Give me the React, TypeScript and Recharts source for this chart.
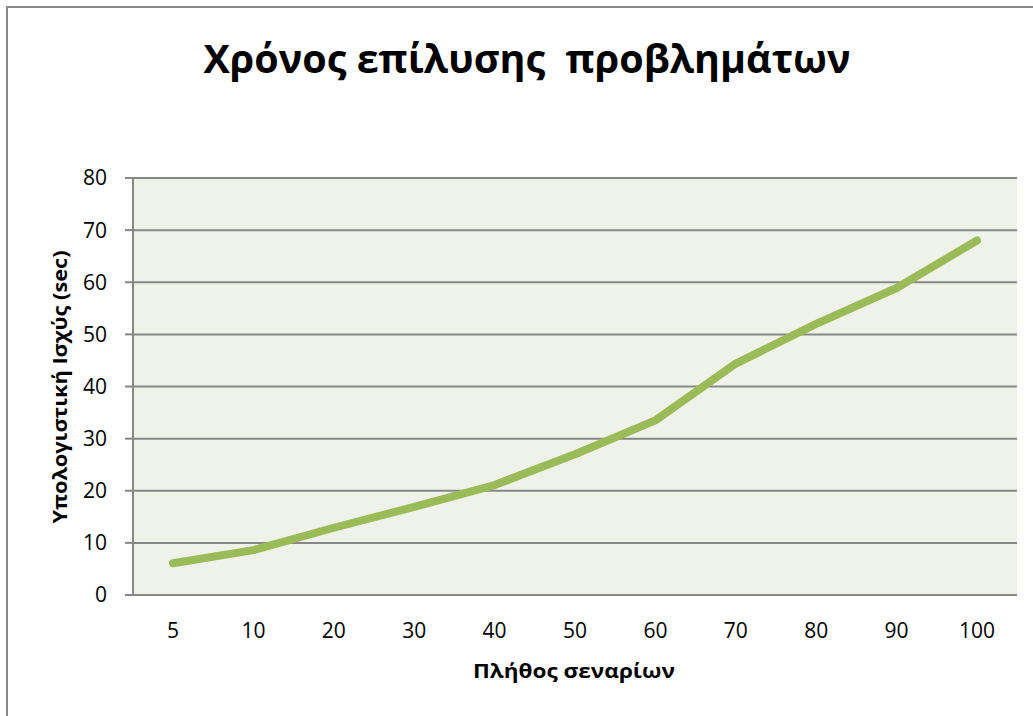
import React from "react";
import { LineChart, Line, XAxis, YAxis, CartesianGrid } from "recharts";

const categories = ["5", "10", "20", "30", "40", "50", "60", "70", "80", "90", "100"];
const timeValues = [6.1, 8.6, 12.9, 16.9, 21.1, 27.0, 33.5, 44.4, 52.0, 58.9, 68.0];
const yTicks = [0, 10, 20, 30, 40, 50, 60, 70, 80];

const data = categories.map((c, i) => ({ name: c, value: timeValues[i] }));

const FONT = "'Open Sans', 'DejaVu Sans', sans-serif";

export default function App() {
  return (
    <div style={{ position: "absolute", left: 0, top: 0, width: 1033, height: 716, overflow: "hidden", background: "#fff" }}>
      <div
        style={{
          position: "absolute",
          left: 6,
          top: 6,
          width: 1060,
          height: 760,
          border: "2px solid #888888",
          boxSizing: "border-box",
        }}
      />
      <div style={{ position: "absolute", left: 0, top: 0 }}>
        <LineChart
          width={1033}
          height={716}
          data={data}
          margin={{ top: 178, right: 16, bottom: 0, left: 0 }}
        >
          <CartesianGrid vertical={false} stroke="#878787" strokeWidth={2} fill="#EFF2E9" />
          <XAxis
            dataKey="name"
            height={121}
            padding={{ left: 40, right: 40 }}
            tickLine={false}
            tickSize={0}
            tickMargin={28}
            axisLine={{ stroke: "#878787", strokeWidth: 2 }}
            tick={{ fill: "#000", fontSize: 21, fontFamily: FONT }}
            interval={0}
          />
          <YAxis
            width={133}
            domain={[0, 80]}
            ticks={yTicks}
            interval={0}
            tickSize={8}
            tickMargin={18}
            tickLine={{ stroke: "#878787", strokeWidth: 2 }}
            axisLine={{ stroke: "#878787", strokeWidth: 2 }}
            tick={{ fill: "#000", fontSize: 21, fontFamily: FONT }}
          />
          <Line
            type="linear"
            dataKey="value"
            stroke="#9BBB59"
            strokeWidth={8}
            strokeLinecap="round"
            strokeLinejoin="round"
            dot={false}
            activeDot={false}
            isAnimationActive={false}
          />
        </LineChart>
      </div>
      <svg
        width={1033}
        height={716}
        style={{ position: "absolute", left: 0, top: 0, pointerEvents: "none" }}
      >
        <text
          x={527}
          y={73}
          textAnchor="middle"
          fontFamily={FONT}
          fontWeight="bold"
          fontSize={40}
          fill="#000"
          textLength={647}
          lengthAdjust="spacingAndGlyphs"
          style={{ whiteSpace: "pre" }}
        >
          Χρόνος επίλυσης  προβλημάτων
        </text>
        <text
          x={574}
          y={678}
          textAnchor="middle"
          fontFamily={FONT}
          fontWeight="bold"
          fontSize={20}
          fill="#000"
          textLength={202}
          lengthAdjust="spacingAndGlyphs"
        >
          Πλήθος σεναρίων
        </text>
        <text
          x={0}
          y={0}
          transform="translate(67,387) rotate(-90)"
          textAnchor="middle"
          fontFamily={FONT}
          fontWeight="bold"
          fontSize={20}
          fill="#000"
          textLength={273}
          lengthAdjust="spacingAndGlyphs"
        >
          Υπολογιστική Ισχύς (sec)
        </text>
      </svg>
    </div>
  );
}
